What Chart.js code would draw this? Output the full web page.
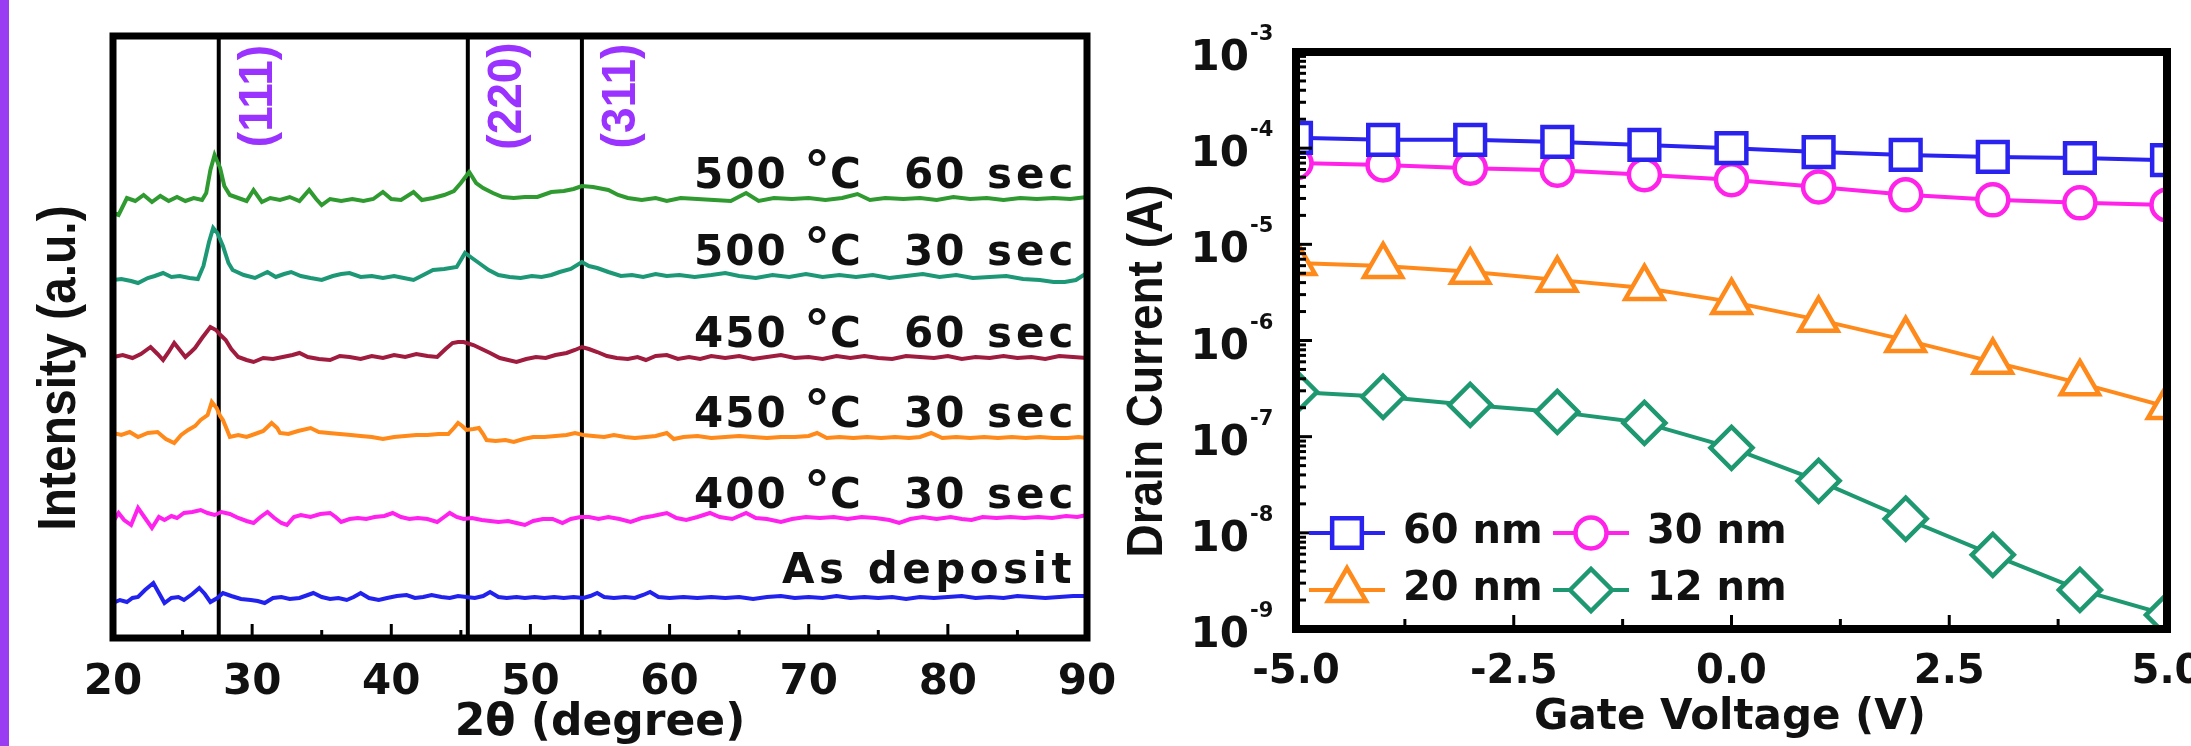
<!DOCTYPE html>
<html><head><meta charset="utf-8">
<script src="https://cdn.jsdelivr.net/npm/chart.js@4/dist/chart.umd.min.js"></script>
<style>
html,body{margin:0;padding:0;background:#fff;overflow:hidden;width:2191px;height:746px;position:relative;}
#c1{position:absolute;left:0;top:0;}
#c2{position:absolute;left:1100px;top:0;}
</style></head><body>
<canvas id="c1" width="1130" height="746"></canvas>
<canvas id="c2" width="1200" height="746"></canvas>
<script>
// ---------------- Left panel: XRD ----------------
const xrdTickValues = [20, 30, 40, 50, 60, 70, 80, 90];
const xrdPeaks = [27.6, 45.5, 53.7];
const peakLabels = ['(111)', '(220)', '(311)'];
const xrdTemps = ['500', '500', '450', '450', '400'];
const xrdTimes = ['60', '30', '60', '30', '30'];
const asDepositLabel = 'As deposit';

const xrd500_60 = [[20.0,425],[20.4,423],[21.0,440],[21.6,437],[22.2,443],[22.8,436],[23.4,442],[24.0,437],[24.6,441],[25.2,437],[25.8,440],[26.4,438],[26.7,445],[27.0,468],[27.3,483],[27.7,470],[28.0,452],[28.4,443],[29.0,440],[29.6,437],[30.1,448],[30.7,436],[31.3,440],[32.0,438],[32.7,441],[33.4,437],[34.1,448],[34.6,439],[35.0,433],[35.6,439],[36.4,437],[37.2,439],[38.0,437],[38.7,439],[39.4,446],[40.0,439],[40.7,438],[41.6,446],[42.2,438],[43.0,440],[43.8,443],[44.5,447],[45.0,455],[45.6,466],[46.1,455],[46.6,450],[47.3,445],[48.0,441],[48.8,440],[49.6,441],[50.5,441],[51.5,446],[52.4,447],[53.1,449],[53.7,452],[54.5,451],[55.6,448],[56.3,443],[57.0,440],[58.0,438],[59.0,440],[59.8,437],[60.8,440],[62.0,439],[63.2,438],[64.4,437],[65.5,445],[66.4,437],[67.5,440],[68.8,439],[70.0,440],[71.2,438],[72.4,440],[73.5,444],[74.4,438],[75.5,440],[76.8,439],[78.0,440],[79.2,438],[80.4,441],[81.6,439],[82.8,440],[84.0,438],[85.2,440],[86.4,439],[87.6,440],[88.8,439],[90.0,441]];
const xrd500_30 = [[20.0,358],[20.6,359],[21.3,357],[21.8,355],[22.5,360],[23.0,362],[23.6,365],[24.2,361],[24.8,362],[25.5,360],[26.1,359],[26.5,372],[26.9,396],[27.2,410],[27.5,405],[27.9,392],[28.3,375],[28.6,368],[29.4,363],[30.2,360],[31.1,366],[31.7,361],[32.3,364],[32.8,366],[33.5,362],[34.2,360],[35.0,358],[35.8,362],[36.4,364],[37.0,365],[37.8,361],[38.6,362],[39.4,360],[40.2,362],[40.9,360],[41.6,358],[42.3,363],[43.0,368],[43.8,369],[44.7,371],[45.3,385],[45.8,380],[46.3,375],[47.0,368],[47.7,363],[48.5,361],[49.3,360],[50.1,362],[50.8,361],[51.5,363],[52.1,366],[52.9,369],[53.7,376],[54.2,372],[54.8,370],[55.6,366],[56.5,362],[57.3,363],[58.1,361],[59.0,364],[59.8,362],[60.7,363],[61.8,361],[63.0,363],[64.0,365],[65.0,362],[66.2,360],[67.4,363],[68.6,361],[69.8,364],[71.0,361],[72.2,363],[73.4,361],[74.6,363],[75.8,360],[77.0,362],[78.2,364],[79.4,361],[80.6,363],[81.8,360],[83.0,361],[84.2,362],[85.4,359],[86.6,358],[87.6,356],[88.4,356],[89.2,358],[90.0,365]];
const xrd450_60 = [[20.0,281],[20.7,283],[21.4,280],[22.0,284],[22.7,291],[23.2,284],[23.6,278],[24.0,286],[24.4,295],[24.8,288],[25.2,281],[25.6,286],[25.9,290],[26.4,300],[27.0,311],[27.4,308],[27.8,302],[28.1,298],[28.5,289],[29.0,281],[29.6,278],[30.1,276],[30.8,280],[31.5,279],[32.2,281],[32.9,283],[33.4,285],[34.0,281],[34.8,279],[35.6,278],[36.3,282],[37.0,281],[37.8,279],[38.6,282],[39.4,280],[40.2,283],[41.0,281],[41.8,284],[42.6,282],[43.3,281],[43.9,289],[44.4,295],[44.8,296],[45.2,296],[45.9,293],[46.5,289],[47.1,285],[47.8,280],[48.4,278],[49.0,276],[49.7,279],[50.4,281],[51.1,280],[51.8,283],[52.6,285],[53.2,288],[53.7,291],[54.2,289],[54.8,286],[55.5,282],[56.2,280],[57.0,279],[57.7,281],[58.3,278],[59.0,282],[59.8,283],[60.6,279],[61.4,281],[62.2,279],[63.0,282],[64.0,280],[65.0,282],[66.0,279],[67.0,281],[68.0,283],[69.0,280],[70.0,281],[71.0,279],[72.0,282],[73.0,280],[74.0,282],[75.0,280],[76.0,279],[77.0,282],[78.0,281],[79.0,280],[80.0,282],[81.0,279],[82.0,281],[83.0,280],[84.0,282],[85.0,280],[86.0,281],[87.0,279],[88.0,282],[89.0,281],[90.0,280]];
const xrd450_30 = [[20.0,205],[20.6,203],[21.2,206],[21.8,201],[22.5,205],[23.2,206],[23.8,199],[24.4,195],[24.9,203],[25.4,208],[25.9,212],[26.3,218],[26.8,223],[27.1,236],[27.45,230],[27.7,222],[27.9,218],[28.2,208],[28.4,201],[29.0,203],[29.6,201],[30.2,204],[30.8,207],[31.4,215],[31.8,210],[32.0,205],[32.6,204],[33.3,207],[34.2,210],[34.8,206],[35.5,205],[36.3,204],[37.1,203],[37.8,202],[38.6,201],[39.4,199],[40.2,201],[41.0,202],[41.8,203],[42.6,203],[43.4,204],[44.1,204],[44.5,210],[44.8,215],[45.1,212],[45.4,208],[45.9,209],[46.3,210],[46.6,204],[46.85,198],[47.5,197],[48.2,198],[48.8,196],[49.5,199],[50.2,201],[51.0,201],[51.8,202],[52.6,203],[53.2,205],[53.8,203],[54.5,202],[55.3,201],[56.0,203],[56.8,201],[57.5,200],[58.3,201],[59.0,202],[59.8,205],[60.3,199],[61.0,201],[62.0,202],[63.0,200],[64.0,201],[65.0,202],[66.0,201],[67.0,200],[68.0,201],[69.0,201],[70.0,202],[70.6,205],[71.3,200],[72.2,201],[73.2,200],[74.2,201],[75.2,200],[76.2,201],[77.2,200],[78.0,201],[78.8,205],[79.6,200],[80.6,201],[81.6,200],[82.6,201],[83.6,200],[84.6,201],[85.6,200],[86.6,201],[87.6,200],[88.6,200],[89.4,201],[90.0,200]];
const xrd400_30 = [[20.0,116],[20.4,125],[20.8,118],[21.3,113],[21.8,130],[22.3,120],[22.8,110],[23.3,121],[23.7,118],[24.2,122],[24.6,120],[25.1,125],[25.7,126],[26.3,128],[26.8,125],[27.3,123],[27.8,126],[28.4,124],[29.0,120],[29.6,117],[30.1,115],[30.6,121],[31.1,126],[31.6,120],[32.1,115],[32.5,113],[33.0,121],[33.5,123],[34.2,121],[34.9,124],[35.6,125],[36.0,121],[36.4,116],[37.0,119],[37.6,120],[38.2,119],[38.8,121],[39.5,122],[40.1,125],[40.7,121],[41.3,119],[41.9,120],[42.6,119],[43.3,116],[43.8,121],[44.2,125],[44.7,121],[45.2,119],[45.8,120],[46.5,118],[47.1,117],[47.7,116],[48.4,117],[49.0,115],[49.6,113],[50.2,117],[50.9,119],[51.6,119],[52.3,115],[52.9,119],[53.6,121],[54.2,121],[54.9,119],[55.6,121],[56.4,119],[57.2,116],[58.0,120],[58.8,122],[59.8,125],[60.5,120],[61.2,118],[62.0,121],[62.9,125],[63.6,121],[64.5,119],[65.5,125],[66.2,120],[67.0,119],[68.0,116],[68.8,119],[69.8,121],[70.8,120],[71.8,121],[72.8,119],[73.8,121],[74.8,120],[75.8,118],[76.5,115],[77.3,119],[78.2,121],[79.2,119],[80.2,121],[81.0,119],[81.7,118],[82.5,121],[83.5,120],[84.5,121],[85.5,120],[86.5,121],[87.5,120],[88.5,122],[89.3,121],[90.0,123]];
const xrdAsDeposit = [[20.0,35],[20.5,38],[21.0,36],[21.4,40],[21.8,41],[22.3,48],[22.9,55],[23.3,45],[23.7,35],[24.2,40],[24.7,41],[25.1,38],[25.7,44],[26.2,50],[26.6,44],[27.0,36],[27.5,40],[27.9,45],[28.5,42],[29.2,39],[29.9,38],[30.4,37],[30.9,35],[31.5,40],[32.1,41],[32.7,39],[33.4,40],[34.0,43],[34.4,45],[35.0,41],[35.6,39],[36.2,40],[36.8,38],[37.3,41],[37.8,45],[38.4,40],[39.1,38],[39.7,40],[40.4,42],[41.1,43],[41.7,40],[42.3,41],[42.9,43],[43.6,41],[44.2,40],[44.8,42],[45.4,41],[46.0,40],[46.6,42],[47.1,46],[47.7,41],[48.3,40],[49.0,41],[49.6,40],[50.3,41],[51.0,40],[51.7,41],[52.4,40],[53.1,41],[53.8,40],[54.3,42],[54.8,45],[55.3,41],[56.0,40],[56.8,41],[57.5,40],[58.1,43],[58.6,46],[59.2,41],[60.0,40],[61.0,41],[62.0,40],[63.0,41],[64.0,40],[65.0,41],[66.0,39],[67.0,41],[68.0,42],[69.0,40],[70.0,41],[71.0,40],[72.0,42],[73.0,40],[74.0,41],[75.0,40],[76.0,41],[77.0,39],[78.0,41],[79.0,40],[80.0,41],[81.0,42],[82.0,40],[83.0,41],[84.0,40],[85.0,42],[86.0,41],[87.0,40],[88.0,41],[89.0,42],[90.0,42]];

// ---------------- Right panel: transfer curves ----------------
const gateVoltage = [-5, -4, -3, -2, -1, 0, 1, 2, 3, 4, 5];
const gateTickValues = [-5, -2.5, 0, 2.5, 5];
const currentExponents = [-9, -8, -7, -6, -5, -4, -3];
const drain60nm = [1.28e-4, 1.22e-4, 1.22e-4, 1.16e-4, 1.08e-4, 1.0e-4, 9.1e-5, 8.5e-5, 8.1e-5, 7.9e-5, 7.5e-5];
const drain30nm = [7.0e-5, 6.7e-5, 6.2e-5, 5.9e-5, 5.3e-5, 4.7e-5, 3.95e-5, 3.27e-5, 2.9e-5, 2.7e-5, 2.57e-5];
const drain20nm = [6.4e-6, 5.96e-6, 5.2e-6, 4.27e-6, 3.52e-6, 2.52e-6, 1.64e-6, 1.01e-6, 6.0e-7, 3.6e-7, 2.04e-7];
const drain12nm = [2.92e-7, 2.6e-7, 2.14e-7, 1.81e-7, 1.39e-7, 7.65e-8, 3.47e-8, 1.40e-8, 5.9e-9, 2.55e-9, 1.4e-9];
const thicknessLabels = ['60 nm', '30 nm', '20 nm', '12 nm'];

// ---------------- helpers ----------------
const DJ = "'DejaVu Sans'";
const LIB = "'Liberation Sans'";
const toXY = arr => arr.map(p => ({x: p[0], y: p[1]}));

function drawMarker(ctx, style, r, x, y) {
  ctx.beginPath();
  if (style === 'circle') ctx.arc(x, y, r, 0, Math.PI * 2);
  else if (style === 'rect') { const s = Math.SQRT1_2 * r; ctx.rect(x - s, y - s, 2 * s, 2 * s); }
  else if (style === 'triangle') { ctx.moveTo(x, y - r); ctx.lineTo(x + 0.866 * r, y + 0.5 * r); ctx.lineTo(x - 0.866 * r, y + 0.5 * r); ctx.closePath(); }
  else if (style === 'rectRot') { ctx.moveTo(x - r, y); ctx.lineTo(x, y - r); ctx.lineTo(x + r, y); ctx.lineTo(x, y + r); ctx.closePath(); }
  ctx.fill(); ctx.stroke();
}
function rotatedText(ctx, text, cx, cy, font, color, stretch) {
  ctx.save();
  ctx.translate(cx, cy);
  ctx.rotate(-Math.PI / 2);
  ctx.scale(1, stretch);
  ctx.font = font; ctx.fillStyle = color;
  ctx.textAlign = 'center'; ctx.textBaseline = 'middle';
  ctx.fillText(text, 0, 0);
  ctx.restore();
}

// ---------------- Left chart ----------------
const xrdColors = ['#2f9a2f', '#1c9877', '#a01c3e', '#ff8a1a', '#ff22ee', '#2222ee'];
const xrdSeries = [xrd500_60, xrd500_30, xrd450_60, xrd450_30, xrd400_30, xrdAsDeposit];

const leftDatasets = xrdSeries.map((s, i) => ({
  data: toXY(s), borderColor: xrdColors[i], borderWidth: 4, pointRadius: 0, tension: 0, clip: 0
}));
xrdPeaks.forEach(p => leftDatasets.push({
  data: [{x: p, y: 0}, {x: p, y: 602}], borderColor: '#000', borderWidth: 4, pointRadius: 0, clip: 0
}));

const leftDeco = {
  id: 'leftDeco',
  beforeDraw(chart) {
    const ctx = chart.ctx;
    ctx.save(); ctx.fillStyle = '#9a3cf2'; ctx.fillRect(0, 0, 9, 746); ctx.restore();
  },
  afterDatasetsDraw(chart) {
    const ctx = chart.ctx, a = chart.chartArea, xs = chart.scales.x;
    ctx.save();
    // inward ticks
    ctx.strokeStyle = '#000'; ctx.lineWidth = 3;
    for (let v = 25; v < 90; v += 5) {
      const px = xs.getPixelForValue(v), len = (v % 10 === 0) ? 14 : 8;
      ctx.beginPath(); ctx.moveTo(px, a.bottom); ctx.lineTo(px, a.bottom - len); ctx.stroke();
    }
    // frame
    ctx.lineWidth = 7; ctx.strokeRect(a.left, a.top, a.right - a.left, a.bottom - a.top);
    // peak labels
    xrdPeaks.forEach((p, i) => rotatedText(ctx, peakLabels[i], xs.getPixelForValue(p) + 40, 96, `bold 46px ${LIB}`, '#9a33ff', 1.05));
    // annealing labels
    const baselines = [188, 265, 347, 427, 508];
    ctx.fillStyle = '#111'; ctx.textBaseline = 'alphabetic'; ctx.textAlign = 'left';
    xrdTemps.forEach((t, i) => {
      const y = baselines[i], x0 = 694;
      ctx.font = `bold 42px ${DJ}`; ctx.letterSpacing = '2px';
      ctx.fillText(t, x0, y);
      ctx.font = `bold 52px ${DJ}`; ctx.letterSpacing = '0px';
      ctx.fillText('°', x0 + 110, y);
      ctx.font = `bold 42px ${DJ}`;
      ctx.fillText('C', x0 + 136, y);
      ctx.letterSpacing = '2px';
      ctx.fillText(xrdTimes[i], x0 + 210, y);
      ctx.letterSpacing = '4px';
      ctx.fillText('sec', x0 + 293, y);
    });
    ctx.letterSpacing = '4.5px';
    ctx.fillText(asDepositLabel, 782, 583);
    ctx.letterSpacing = '0px';
    // axis titles
    ctx.font = `bold 44px ${DJ}`; ctx.textAlign = 'center'; ctx.textBaseline = 'middle';
    ctx.fillText('2θ (degree)', 600, 724);
    rotatedText(ctx, 'Intensity (a.u.)', 60, 368, `bold 48px ${LIB}`, '#111', 1.1);
    ctx.restore();
  }
};

new Chart(document.getElementById('c1'), {
  type: 'line',
  data: { datasets: leftDatasets },
  options: {
    responsive: false, devicePixelRatio: 1, animation: false,
    layout: { padding: { left: 113, right: 43, top: 36, bottom: 0 } },
    plugins: { legend: { display: false }, tooltip: { enabled: false } },
    scales: {
      x: {
        type: 'linear', min: 20, max: 90,
        afterBuildTicks: s => { s.ticks = xrdTickValues.map(v => ({value: v})); },
        afterFit: s => { s.height = 108; },
        grid: { display: false }, border: { display: false },
        ticks: { autoSkip: false, maxRotation: 0, padding: 12, color: '#111', font: { family: DJ, weight: 'bold', size: 42 } }
      },
      y: { type: 'linear', min: 0, max: 602, display: false }
    }
  },
  plugins: [leftDeco]
});

// ---------------- Right chart ----------------
const tfColors = ['#2a22ee', '#ff22e8', '#ff8a1c', '#1e9870'];
const tfStyles = ['rect', 'circle', 'triangle', 'rectRot'];
const tfRadius = [21, 15.5, 22, 21];
const tfSeries = [drain60nm, drain30nm, drain20nm, drain12nm];

const rightDatasets = tfSeries.map((s, i) => ({
  label: thicknessLabels[i],
  data: gateVoltage.map((v, j) => ({x: v, y: s[j]})),
  borderColor: tfColors[i], borderWidth: 4, tension: 0,
  pointStyle: tfStyles[i], pointRadius: tfRadius[i], pointBorderWidth: 4.5,
  pointBorderColor: tfColors[i], pointBackgroundColor: '#fff', clip: 0
}));

const rightDeco = {
  id: 'rightDeco',
  afterDatasetsDraw(chart) {
    const ctx = chart.ctx, a = chart.chartArea, xs = chart.scales.x, ys = chart.scales.y;
    ctx.save();
    ctx.strokeStyle = '#000'; ctx.lineWidth = 3;
    // y ticks (major + minor) on the left border, inward
    for (let e = -9; e < -3; e++) {
      for (let m = 1; m <= 9; m++) {
        const py = ys.getPixelForValue(m * Math.pow(10, e));
        const len = m === 1 ? 12 : 6;
        ctx.beginPath(); ctx.moveTo(a.left, py); ctx.lineTo(a.left + 4 + len, py); ctx.stroke();
      }
    }
    // x ticks
    for (let v = -3.75; v < 5; v += 1.25) {
      const px = xs.getPixelForValue(v), len = (Math.abs(v / 2.5 - Math.round(v / 2.5)) < 1e-6) ? 10 : 6;
      ctx.beginPath(); ctx.moveTo(px, a.bottom); ctx.lineTo(px, a.bottom - 4 - len); ctx.stroke();
    }
    // frame
    ctx.lineWidth = 8; ctx.strokeRect(a.left, a.top, a.right - a.left, a.bottom - a.top);
    // y tick labels 10^n
    ctx.fillStyle = '#111';
    currentExponents.forEach(e => {
      const py = ys.getPixelForValue(Math.pow(10, e));
      ctx.font = `bold 42px ${DJ}`; ctx.textAlign = 'right'; ctx.textBaseline = 'alphabetic';
      ctx.fillText('10', 149, py + 18);
      ctx.font = `bold 21px ${DJ}`; ctx.textAlign = 'left';
      ctx.fillText('-' + Math.abs(e), 150, py - 12);
    });
    // legend
    const cols = [247, 491], rows = [533, 590];
    chart.data.datasets.forEach((ds, i) => {
      const cx = cols[i % 2], cy = rows[Math.floor(i / 2)];
      ctx.strokeStyle = ds.borderColor; ctx.lineWidth = 4;
      ctx.beginPath(); ctx.moveTo(cx - 38, cy); ctx.lineTo(cx + 38, cy); ctx.stroke();
      ctx.fillStyle = '#fff'; ctx.lineWidth = ds.pointBorderWidth;
      drawMarker(ctx, ds.pointStyle, ds.pointRadius, cx, cy);
      ctx.fillStyle = '#111'; ctx.font = `bold 40px ${DJ}`; ctx.textAlign = 'left'; ctx.textBaseline = 'middle';
      ctx.fillText(ds.label, cx + 56, cy);
    });
    // axis titles
    ctx.font = `bold 42px ${DJ}`; ctx.textAlign = 'center'; ctx.textBaseline = 'middle'; ctx.fillStyle = '#111';
    ctx.fillText('Gate Voltage (V)', 630, 718);
    rotatedText(ctx, 'Drain Current (A)', 48, 371, `bold 46px ${LIB}`, '#111', 1.1);
    ctx.restore();
  }
};

new Chart(document.getElementById('c2'), {
  type: 'line',
  data: { datasets: rightDatasets },
  options: {
    responsive: false, devicePixelRatio: 1, animation: false,
    layout: { padding: { left: 196, right: 133, top: 52, bottom: 0 } },
    plugins: { legend: { display: false }, tooltip: { enabled: false } },
    scales: {
      x: {
        type: 'linear', min: -5, max: 5,
        afterBuildTicks: s => { s.ticks = gateTickValues.map(v => ({value: v})); },
        afterFit: s => { s.height = 117; },
        grid: { display: false }, border: { display: false },
        ticks: { autoSkip: false, maxRotation: 0, padding: 12, color: '#111',
          callback: v => Number(v).toFixed(1),
          font: { family: DJ, weight: 'bold', size: 40 } }
      },
      y: { type: 'logarithmic', min: 1e-9, max: 1e-3, display: false }
    }
  },
  plugins: [rightDeco]
});
</script></body></html>
